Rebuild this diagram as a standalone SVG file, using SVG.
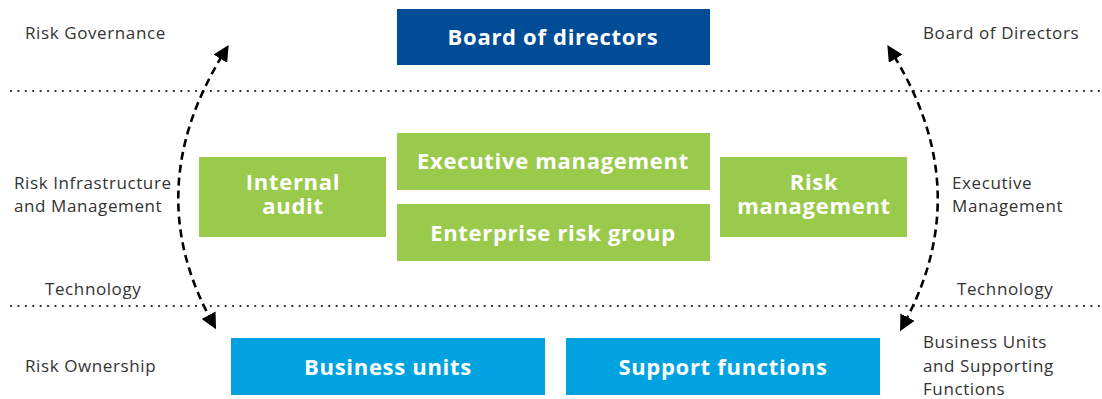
<svg xmlns="http://www.w3.org/2000/svg" width="1102" height="399" viewBox="0 0 1102 399">
<style>
.lbl{font-family:"Open Sans","Liberation Sans",sans-serif;font-size:17px;letter-spacing:0.6px;fill:#333333}
.bt{font-family:"Open Sans","Liberation Sans",sans-serif;font-size:22px;letter-spacing:0.7px;font-weight:bold;fill:#ffffff;text-anchor:middle}
.green{fill:#9ACA4C}
.dot{stroke:#222;stroke-width:2.2;stroke-dasharray:0.1 7.3;stroke-linecap:round}
.arc{fill:none;stroke:#000;stroke-width:2.6;stroke-dasharray:8 5}
</style>
<defs>
<marker id="ah" viewBox="0 0 10 10" refX="2" refY="5" markerWidth="16" markerHeight="16" markerUnits="userSpaceOnUse" orient="auto-start-reverse">
<path d="M0,0 L10,5 L0,10 Z" fill="#000"/>
</marker>
</defs>
<g id="separators">
<line class="dot" x1="11" y1="91" x2="1100" y2="91"/>
<line class="dot" x1="11" y1="306" x2="1100" y2="306"/>
</g>
<g id="side-labels">
<text class="lbl" x="25" y="39">Risk Governance</text>
<text class="lbl" x="923" y="39">Board of Directors</text>
<text class="lbl" x="14" y="189">Risk Infrastructure</text>
<text class="lbl" x="14" y="212">and Management</text>
<text class="lbl" x="952" y="189">Executive</text>
<text class="lbl" x="952" y="212">Management</text>
<text class="lbl" x="45" y="295">Technology</text>
<text class="lbl" x="957" y="295">Technology</text>
<text class="lbl" x="25" y="372">Risk Ownership</text>
<text class="lbl" x="923" y="348">Business Units</text>
<text class="lbl" x="923" y="372">and Supporting</text>
<text class="lbl" x="923" y="395">Functions</text>
</g>
<g id="board">
<rect x="397" y="9" width="313" height="56" fill="#004C97"/>
<text class="bt" x="553" y="45">Board of directors</text>
</g>
<g id="internal-audit">
<rect class="green" x="199" y="157" width="187" height="80"/>
<text class="bt" x="293" y="190">Internal<tspan x="293" dy="24">audit</tspan></text>
</g>
<g id="executive-management">
<rect class="green" x="397" y="133" width="313" height="57"/>
<text class="bt" x="553" y="169">Executive management</text>
</g>
<g id="enterprise-risk-group">
<rect class="green" x="397" y="204" width="313" height="57"/>
<text class="bt" x="553" y="241">Enterprise risk group</text>
</g>
<g id="risk-management">
<rect class="green" x="720" y="157" width="187" height="80"/>
<text class="bt" x="814" y="190">Risk<tspan x="814" dy="24">management</tspan></text>
</g>
<g id="business-units">
<rect x="231" y="338" width="314" height="57" fill="#00A3E0"/>
<text class="bt" x="388" y="375">Business units</text>
</g>
<g id="support-functions">
<rect x="566" y="338" width="314" height="57" fill="#00A3E0"/>
<text class="bt" x="723" y="375">Support functions</text>
</g>
<g id="connectors">
<path class="arc" d="M222,56 Q141,189 210,318" marker-start="url(#ah)" marker-end="url(#ah)"/>
<path class="arc" d="M894,56 Q975,189 906,320" marker-start="url(#ah)" marker-end="url(#ah)"/>
</g>
</svg>
